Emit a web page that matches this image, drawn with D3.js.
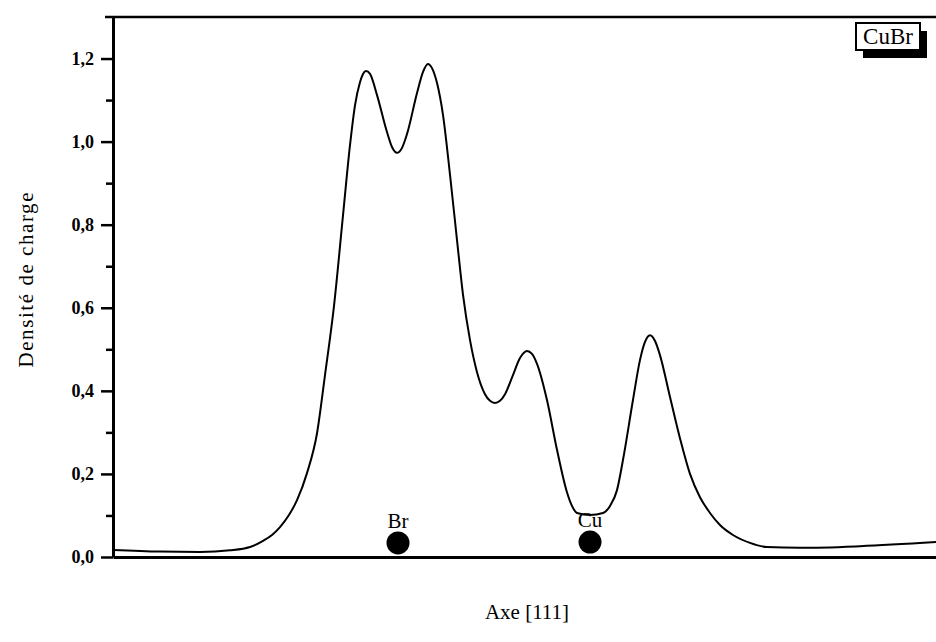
<!DOCTYPE html>
<html>
<head>
<meta charset="utf-8">
<script src="https://cdn.jsdelivr.net/npm/d3@7"></script>
<style>
  html, body { margin: 0; padding: 0; background: #fff; }
  svg { display: block; }
  text { font-family: "Liberation Serif", "DejaVu Serif", serif; fill: #000; }
</style>
</head>
<body>
<svg id="chart" width="936" height="642"></svg>
<script>
// Position along [111] axis (arbitrary units) and charge density
const posX = [0.000, 0.571, 1.057, 1.422, 1.665, 1.823, 1.932, 2.029, 2.138, 2.236, 2.357, 2.479, 2.576, 2.685, 2.795, 2.880, 2.941, 3.001, 3.038, 3.074, 3.123, 3.208, 3.329, 3.390, 3.451, 3.512, 3.572, 3.694, 3.767, 3.827, 3.876, 3.937, 4.010, 4.095, 4.180, 4.253, 4.338, 4.423, 4.520, 4.581, 4.641, 4.702, 4.763, 4.860, 4.945, 5.030, 5.091, 5.152, 5.273, 5.395, 5.516, 5.577, 5.638, 5.796, 5.954, 6.039, 6.124, 6.197, 6.318, 6.403, 6.464, 6.525, 6.586, 6.646, 6.768, 6.889, 7.011, 7.132, 7.254, 7.375, 7.533, 7.740, 7.946, 8.347, 9.077, 10.000];
const density = [0.017, 0.013, 0.012, 0.016, 0.024, 0.039, 0.053, 0.072, 0.101, 0.137, 0.202, 0.298, 0.438, 0.604, 0.823, 0.992, 1.088, 1.143, 1.163, 1.170, 1.163, 1.112, 1.023, 0.987, 0.973, 0.985, 1.018, 1.117, 1.168, 1.187, 1.177, 1.141, 1.064, 0.920, 0.763, 0.631, 0.522, 0.445, 0.392, 0.376, 0.371, 0.376, 0.392, 0.438, 0.479, 0.496, 0.489, 0.465, 0.378, 0.258, 0.156, 0.123, 0.106, 0.101, 0.106, 0.123, 0.161, 0.234, 0.378, 0.474, 0.518, 0.534, 0.520, 0.486, 0.385, 0.286, 0.200, 0.144, 0.106, 0.077, 0.053, 0.034, 0.024, 0.022, 0.026, 0.036];

// Atoms
const atomNames = ["Br", "Cu"];
const atomX = [3.463, 5.796];
const atomY = [0.034, 0.036];

// Axis ticks
const majorTicks = [0, 0.2, 0.4, 0.6, 0.8, 1.0, 1.2];
const minorTicks = [0.1, 0.3, 0.5, 0.7, 0.9, 1.1];

const yTitle = "Densité de charge";
const xTitle = "Axe [111]";
const legendLabel = "CuBr";

const svg = d3.select("#chart");
const x = d3.scaleLinear().domain([0, 10]).range([113, 936]);
const y = d3.scaleLinear().domain([0, 1.3]).range([557, 17]);

// top frame line
svg.append("line")
  .attr("x1", 105).attr("x2", 936)
  .attr("y1", y(1.3)).attr("y2", y(1.3))
  .attr("stroke", "#000").attr("stroke-width", 2.5);

// bottom axis
const gx = svg.append("g").attr("transform", `translate(0,${y(0)})`)
  .call(d3.axisBottom(x).tickValues([]).tickSizeOuter(0));
gx.select(".domain").attr("stroke-width", 3);

// minor ticks
const gMinor = svg.append("g").attr("transform", `translate(${x(0)},0)`)
  .call(d3.axisLeft(y).tickValues(minorTicks).tickSize(7).tickFormat("").tickSizeOuter(0));
gMinor.select(".domain").remove();
gMinor.selectAll(".tick line").attr("stroke-width", 2.5);

// left axis
const gy = svg.append("g").attr("transform", `translate(${x(0)},0)`)
  .call(d3.axisLeft(y).tickValues(majorTicks).tickSize(12).tickSizeOuter(0).tickPadding(7)
    .tickFormat(d => d.toFixed(1).replace(".", ",")));
gy.select(".domain").attr("stroke-width", 3);
gy.selectAll(".tick line").attr("stroke-width", 2.5);
gy.selectAll(".tick text")
  .style("font-family", "'Liberation Serif', serif")
  .style("font-size", "18px").style("font-weight", "bold");

// curve
const pts = posX.map((d, i) => [d, density[i]]);
svg.append("path")
  .datum(pts)
  .attr("fill", "none").attr("stroke", "#000").attr("stroke-width", 2)
  .attr("stroke-linejoin", "round")
  .attr("d", d3.line().x(d => x(d[0])).y(d => y(d[1])).curve(d3.curveMonotoneX));

// atoms
atomNames.forEach((n, i) => {
  svg.append("circle").attr("cx", x(atomX[i])).attr("cy", y(atomY[i])).attr("r", 11.5).attr("fill", "#000");
  svg.append("text").attr("x", x(atomX[i])).attr("y", y(atomY[i]) - 15)
    .attr("text-anchor", "middle").style("font-size", "21px").text(n);
});

// legend
svg.append("rect").attr("x", 863).attr("y", 31).attr("width", 64).attr("height", 27).attr("fill", "#000");
svg.append("rect").attr("x", 856).attr("y", 23).attr("width", 64).attr("height", 27)
  .attr("fill", "#fff").attr("stroke", "#000").attr("stroke-width", 2);
svg.append("text").attr("x", 888).attr("y", 44).attr("text-anchor", "middle")
  .style("font-size", "23px").text(legendLabel);

// axis titles
svg.append("text").attr("transform", "translate(33,280) rotate(-90)")
  .attr("text-anchor", "middle").style("font-size", "21px").attr("textLength", 175).text(yTitle);
svg.append("text").attr("x", 527).attr("y", 619).attr("text-anchor", "middle")
  .style("font-size", "21px").text(xTitle);
</script>
</body>
</html>
